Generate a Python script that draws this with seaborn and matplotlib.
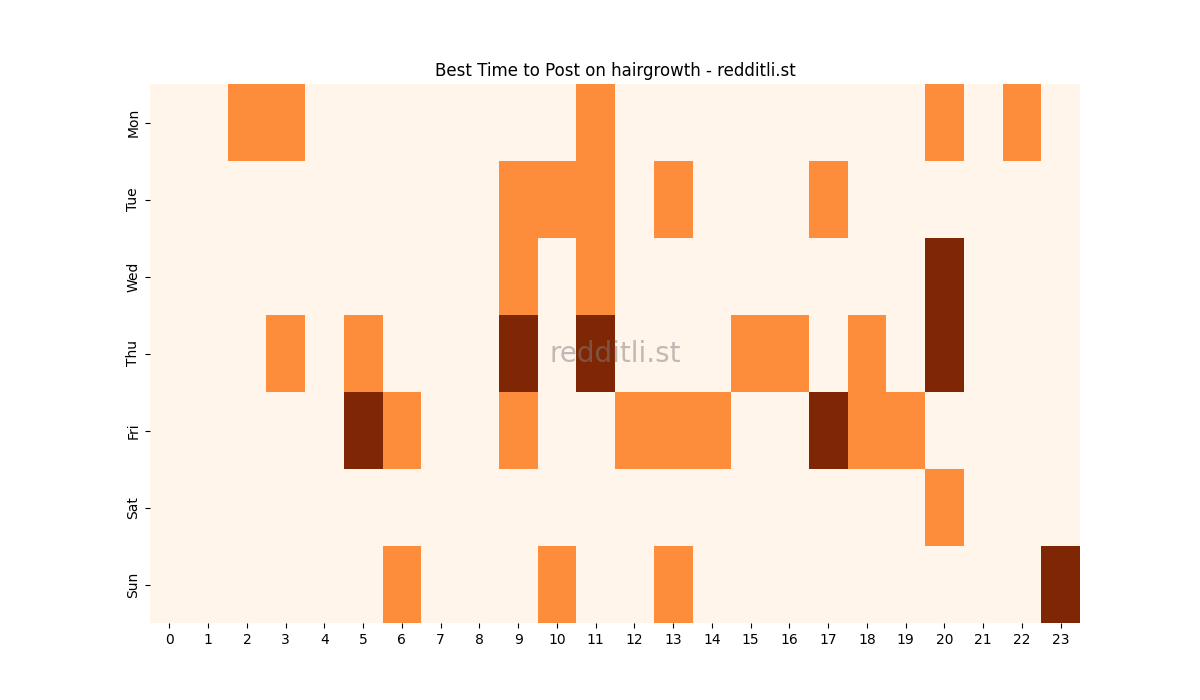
import numpy as np
import pandas as pd
import matplotlib
matplotlib.use('Agg')
import matplotlib.pyplot as plt
import seaborn as sns

days = ['Mon', 'Tue', 'Wed', 'Thu', 'Fri', 'Sat', 'Sun']
hours = list(range(24))

# post activity level per hour (0 = none, 1 = some, 2 = best)
mon = [0, 0, 1, 1, 0, 0, 0, 0, 0, 0, 0, 1, 0, 0, 0, 0, 0, 0, 0, 0, 1, 0, 1, 0]
tue = [0, 0, 0, 0, 0, 0, 0, 0, 0, 1, 1, 1, 0, 1, 0, 0, 0, 1, 0, 0, 0, 0, 0, 0]
wed = [0, 0, 0, 0, 0, 0, 0, 0, 0, 1, 0, 1, 0, 0, 0, 0, 0, 0, 0, 0, 2, 0, 0, 0]
thu = [0, 0, 0, 1, 0, 1, 0, 0, 0, 2, 0, 2, 0, 0, 0, 1, 1, 0, 1, 0, 2, 0, 0, 0]
fri = [0, 0, 0, 0, 0, 2, 1, 0, 0, 1, 0, 0, 1, 1, 1, 0, 0, 2, 1, 1, 0, 0, 0, 0]
sat = [0, 0, 0, 0, 0, 0, 0, 0, 0, 0, 0, 0, 0, 0, 0, 0, 0, 0, 0, 0, 1, 0, 0, 0]
sun = [0, 0, 0, 0, 0, 0, 1, 0, 0, 0, 1, 0, 0, 1, 0, 0, 0, 0, 0, 0, 0, 0, 0, 2]

df = pd.DataFrame([mon, tue, wed, thu, fri, sat, sun], index=days, columns=hours)

fig, ax = plt.subplots(figsize=(12, 7), dpi=100)
sns.heatmap(df, cmap='Oranges', cbar=False, ax=ax)
ax.set_title('Best Time to Post on hairgrowth - redditli.st')
ax.set_xlabel('')
ax.set_ylabel('')
ax.text(0.5, 0.5, 'redditli.st', transform=ax.transAxes, ha='center', va='center',
        fontsize=20, color='gray', alpha=0.5)

plt.savefig('out.png')
